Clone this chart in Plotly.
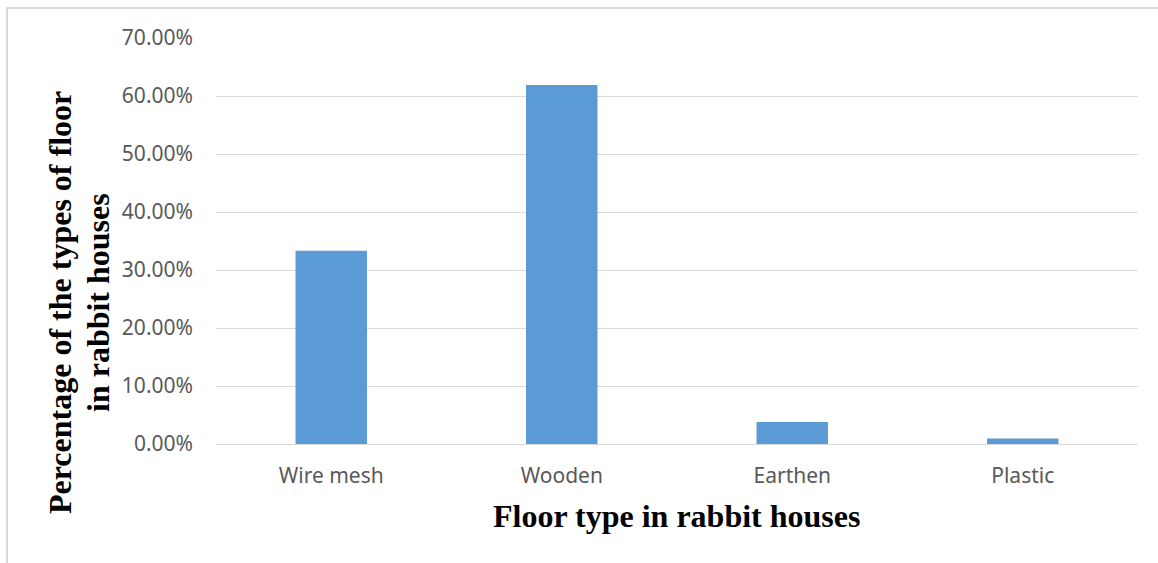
import plotly.graph_objects as go

# Share of each floor type in rabbit houses
floor_types = ["Wire mesh", "Wooden", "Earthen", "Plastic"]
shares = [0.3333, 0.6190, 0.0381, 0.0095]
y_ticks = [0, 0.1, 0.2, 0.3, 0.4, 0.5, 0.6, 0.7]

x_title = "Floor type in rabbit houses"
y_title_lines = ["Percentage of the types of floor", "in rabbit houses"]

W, H = 1158, 563
ML, MR, MT, MB = 216, 20, 38, 119
pw = W - ML - MR
ph = H - MT - MB


def px_to_paper_x(px):
    return (px - ML) / pw


def px_to_paper_y(py):
    return 1 - (py - MT) / ph


fig = go.Figure(
    go.Bar(
        x=floor_types,
        y=shares,
        marker=dict(color="#5b9bd5", line=dict(width=0)),
        hoverinfo="x+y",
    )
)

fig.update_layout(
    width=W,
    height=H,
    margin=dict(l=ML, r=MR, t=MT, b=MB),
    paper_bgcolor="white",
    plot_bgcolor="white",
    bargap=0.69,
    showlegend=False,
    font=dict(family="Noto Sans", color="#595959", size=21),
)

fig.update_xaxes(
    showgrid=False,
    showline=False,
    ticks="",
    ticklabelstandoff=17,
    tickfont=dict(size=21, color="#595959"),
)

fig.update_yaxes(
    range=[0, 0.7],
    tickvals=y_ticks,
    tickformat=".2%",
    showgrid=True,
    gridcolor="#d9d9d9",
    gridwidth=1,
    zeroline=True,
    zerolinecolor="#d9d9d9",
    zerolinewidth=1,
    showline=False,
    ticks="",
    ticklabelstandoff=22,
    tickfont=dict(size=21, color="#595959"),
)

title_font = dict(family="Liberation Serif", size=32, color="black")

# Axis titles
fig.add_annotation(
    text="<b>%s</b>" % x_title,
    xref="paper", yref="paper",
    x=px_to_paper_x(676), y=px_to_paper_y(516),
    xanchor="center", yanchor="middle",
    showarrow=False, font=title_font,
)
for line, cx in zip(y_title_lines, [60, 98]):
    fig.add_annotation(
        text="<b>%s</b>" % line,
        xref="paper", yref="paper",
        x=px_to_paper_x(cx), y=px_to_paper_y(303),
        xanchor="center", yanchor="middle",
        textangle=-90,
        showarrow=False, font=title_font,
    )

# Outer chart frame
fig.add_shape(
    type="rect", xref="paper", yref="paper",
    x0=px_to_paper_x(7), x1=px_to_paper_x(W + 5),
    y0=px_to_paper_y(H + 5), y1=px_to_paper_y(8),
    line=dict(color="#d9d9d9", width=2), fillcolor="rgba(0,0,0,0)",
    layer="below",
)

fig.write_html("out.html")
